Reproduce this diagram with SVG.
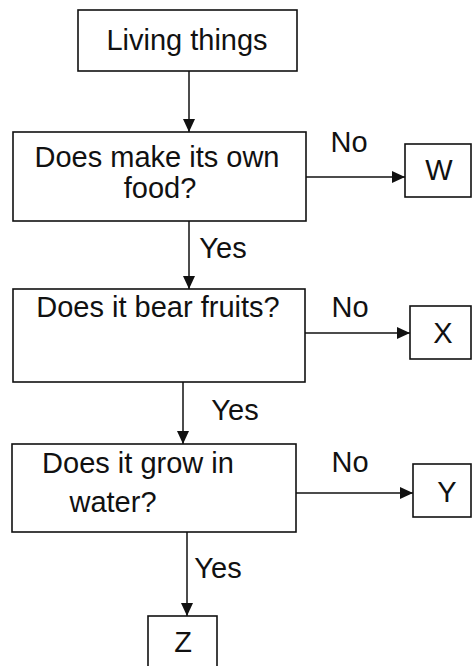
<svg xmlns="http://www.w3.org/2000/svg" width="472" height="666" viewBox="0 0 472 666">
<style>
.box{fill:#fff;stroke:#111;stroke-width:1.6}
.t{font-family:"Liberation Sans",Arial,sans-serif;font-size:29px;fill:#111;text-anchor:middle}
.c{fill:none;stroke:#111;stroke-width:1.5}
</style>
<defs>
<marker id="ah" markerWidth="14" markerHeight="12" refX="13" refY="6" orient="auto" markerUnits="userSpaceOnUse">
<path d="M0,0 L13,6 L0,12 Z" fill="#111"/>
</marker>
</defs>
<rect width="472" height="666" fill="#fff"/>
<g id="connectors">
<line class="c" x1="189" y1="71" x2="189" y2="132" marker-end="url(#ah)"/>
<line class="c" x1="306" y1="177" x2="405" y2="177" marker-end="url(#ah)"/>
<line class="c" x1="189" y1="221" x2="189" y2="289" marker-end="url(#ah)"/>
<line class="c" x1="305" y1="333" x2="410" y2="333" marker-end="url(#ah)"/>
<line class="c" x1="183" y1="382" x2="183" y2="444" marker-end="url(#ah)"/>
<line class="c" x1="296" y1="493" x2="413" y2="493" marker-end="url(#ah)"/>
<line class="c" x1="187" y1="532" x2="187" y2="616" marker-end="url(#ah)"/>
<text class="t" x="349" y="152">No</text>
<text class="t" x="223" y="258">Yes</text>
<text class="t" x="350" y="317">No</text>
<text class="t" x="235" y="420">Yes</text>
<text class="t" x="350" y="472">No</text>
<text class="t" x="218" y="578">Yes</text>
</g>
<g id="living">
<rect class="box" x="78" y="10" width="219" height="61"/>
<text class="t" x="187" y="50">Living things</text>
</g>
<g id="q1">
<rect class="box" x="13" y="132" width="293" height="89"/>
<text class="t" x="157" y="167">Does make its own</text>
<text class="t" x="160" y="198">food?</text>
</g>
<g id="w">
<rect class="box" x="405" y="144" width="66" height="53"/>
<text class="t" x="439" y="180">W</text>
</g>
<g id="q2">
<rect class="box" x="13" y="289" width="292" height="93"/>
<text class="t" x="158" y="317">Does it bear fruits?</text>
</g>
<g id="x">
<rect class="box" x="410" y="306" width="61" height="53"/>
<text class="t" x="443" y="343">X</text>
</g>
<g id="q3">
<rect class="box" x="12" y="444" width="284" height="88"/>
<text class="t" x="138" y="473">Does it grow in</text>
<text class="t" x="113" y="512">water?</text>
</g>
<g id="y">
<rect class="box" x="413" y="464" width="58" height="53"/>
<text class="t" x="447" y="502">Y</text>
</g>
<g id="z">
<rect class="box" x="148" y="616" width="69" height="60"/>
<text class="t" x="183" y="652">Z</text>
</g>
</svg>
